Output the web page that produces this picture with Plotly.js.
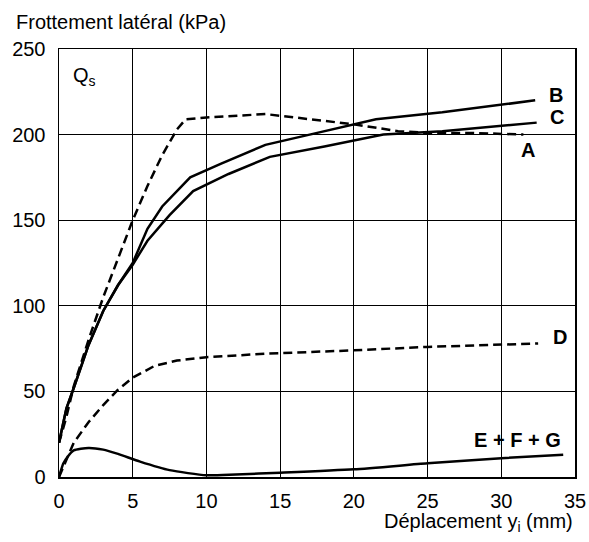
<!DOCTYPE html>
<html><head><meta charset="utf-8">
<script src="https://cdn.plot.ly/plotly-3.0.1.min.js"></script>
<style>body{margin:0;padding:0;background:#fff}#chart{width:589px;height:542px}</style>
</head><body><div id="chart"></div>
<script>
const xA = [0,0.5,1,2,3,4,5,6,7,8,8.6,10,14,17,20,23,25,28,31.5];
const yA = [20,35,53,80,105,128,150,170,188,203,209,210,212,209,206,202,201,201,200];
const xB = [0,0.5,1,2,3,4,5,6,7,8.9,11,14,17,21.5,26,32.3];
const yB = [20,40,52,77,97,112,125,145,158,175,183,194,200,209,213,220];
const xC = [0,0.5,1,2,3,4,5,6,7.5,9.1,11.5,14.3,18,22,26,32.4];
const yC = [20,40,52,77,97,112,124,138,153,167,177,187,193,200,202,207];
const xD = [0,1,2,3,4,5,6.5,8,10,14,20,25,32.5];
const yD = [0,20,32,42,51,58,65,68,70,72,74,76,78];
const xE = [0,0.3,0.6,1,2,3,4,5.5,7.5,10,12,15,20,25,30,34.2];
const yE = [0,8,12,15.5,17,16,13.5,9,4,1,1.5,2.5,4.5,8,11,13];
const labels = ["A","B","C","D","E + F + G"];
const labelX = [31.2,33.1,33.2,33.4,28.0];
const labelY = [191,223,210.5,82,21.6];
const xTicks = [0,5,10,15,20,25,30,35];
const yTicks = [0,50,100,150,200,250];

const solid = {color:'#000', width:2.5};
const dashed = {color:'#000', width:2.5, dash:'9px,5px'};
const traces = [
  {x:xA, y:yA, mode:'lines', line:dashed},
  {x:xB, y:yB, mode:'lines', line:solid},
  {x:xC, y:yC, mode:'lines', line:solid},
  {x:xD, y:yD, mode:'lines', line:dashed},
  {x:xE, y:yE, mode:'lines', line:Object.assign({shape:'spline', smoothing:0.6}, solid)}
];
const font = {family:'Liberation Sans, Arial, sans-serif', size:20, color:'#000'};
const annotations = labels.map((t,i)=>({
  x:labelX[i], y:labelY[i], xref:'x', yref:'y', text:'<b>'+t+'</b>', showarrow:false,
  xanchor:'left', yanchor:'middle', font:font
}));
annotations.push({x:0.8, y:234, xref:'x', yref:'y', text:'Q<sub>s</sub>', showarrow:false, xanchor:'left', yanchor:'middle', font:font});
annotations.push({x:-0.087, y:1.063, xref:'paper', yref:'paper', text:'Frottement latéral (kPa)', showarrow:false, xanchor:'left', yanchor:'middle', font:font});
annotations.push({x:1, y:-0.107, xref:'paper', yref:'paper', text:'Déplacement y<sub>i</sub> (mm)', showarrow:false, xanchor:'right', yanchor:'middle', font:font});

const layout = {
  width:589, height:542,
  margin:{l:59, r:14, t:49, b:65},
  paper_bgcolor:'#fff', plot_bgcolor:'#fff',
  showlegend:false,
  font:font,
  xaxis:{range:[0,35], tickvals:xTicks, ticktext:xTicks.map(String), showgrid:true, gridcolor:'#000', gridwidth:1,
    zeroline:false, showline:true, linecolor:'#000', linewidth:1.5, mirror:true, ticks:'', ticklabelstandoff:5, tickfont:font, fixedrange:true},
  yaxis:{range:[0,250], tickvals:yTicks, ticktext:yTicks.map(String), showgrid:true, gridcolor:'#000', gridwidth:1,
    zeroline:false, showline:true, linecolor:'#000', linewidth:1.5, mirror:true, ticks:'', ticklabelstandoff:8, tickfont:font, fixedrange:true},
  annotations:annotations
};
Plotly.newPlot('chart', traces, layout, {staticPlot:true, displayModeBar:false});
</script></body></html>
